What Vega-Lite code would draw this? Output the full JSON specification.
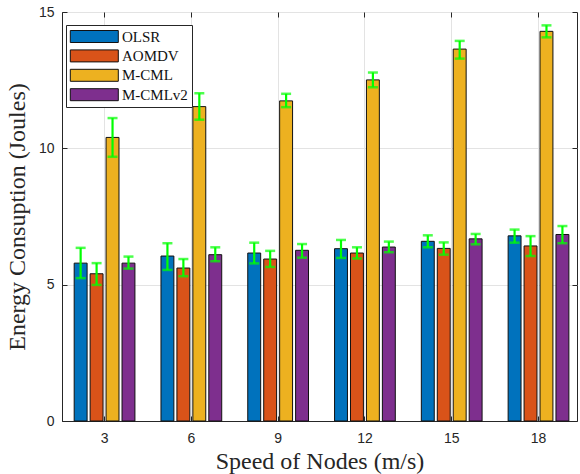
{
  "$schema": "https://vega.github.io/schema/vega-lite/v6.json",
  "width": 515,
  "height": 409,
  "autosize": "none",
  "padding": {"left": 62, "top": 12, "right": 3, "bottom": 53},
  "background": "white",
  "config": {
    "view": {"stroke": "#262626", "strokeWidth": 1},
    "axis": {
      "labelFont": "Liberation Sans",
      "labelFontSize": 14,
      "labelColor": "#262626",
      "domainColor": "#262626",
      "tickColor": "#262626",
      "gridColor": "#e3e3e3",
      "titleFont": "Liberation Serif",
      "titleFontWeight": "normal",
      "titleFontSize": 24,
      "titleColor": "#262626"
    }
  },
  "data": {
    "values": [
      {"speed": 3, "protocol": "OLSR", "energy": 5.79, "lo": 5.24, "hi": 6.35},
      {"speed": 3, "protocol": "AOMDV", "energy": 5.40, "lo": 4.99, "hi": 5.79},
      {"speed": 3, "protocol": "M-CML", "energy": 10.40, "lo": 9.69, "hi": 11.11},
      {"speed": 3, "protocol": "M-CMLv2", "energy": 5.79, "lo": 5.59, "hi": 6.03},
      {"speed": 6, "protocol": "OLSR", "energy": 6.05, "lo": 5.54, "hi": 6.52},
      {"speed": 6, "protocol": "AOMDV", "energy": 5.61, "lo": 5.31, "hi": 5.94},
      {"speed": 6, "protocol": "M-CML", "energy": 11.53, "lo": 11.05, "hi": 12.02},
      {"speed": 6, "protocol": "M-CMLv2", "energy": 6.10, "lo": 5.86, "hi": 6.37},
      {"speed": 9, "protocol": "OLSR", "energy": 6.16, "lo": 5.78, "hi": 6.54},
      {"speed": 9, "protocol": "AOMDV", "energy": 5.94, "lo": 5.65, "hi": 6.24},
      {"speed": 9, "protocol": "M-CML", "energy": 11.74, "lo": 11.51, "hi": 12.0},
      {"speed": 9, "protocol": "M-CMLv2", "energy": 6.26, "lo": 5.99, "hi": 6.49},
      {"speed": 12, "protocol": "OLSR", "energy": 6.32, "lo": 5.98, "hi": 6.64},
      {"speed": 12, "protocol": "AOMDV", "energy": 6.16, "lo": 5.96, "hi": 6.37},
      {"speed": 12, "protocol": "M-CML", "energy": 12.51, "lo": 12.24, "hi": 12.78},
      {"speed": 12, "protocol": "M-CMLv2", "energy": 6.38, "lo": 6.19, "hi": 6.58},
      {"speed": 15, "protocol": "OLSR", "energy": 6.59, "lo": 6.37, "hi": 6.81},
      {"speed": 15, "protocol": "AOMDV", "energy": 6.33, "lo": 6.10, "hi": 6.55},
      {"speed": 15, "protocol": "M-CML", "energy": 13.64, "lo": 13.29, "hi": 13.94},
      {"speed": 15, "protocol": "M-CMLv2", "energy": 6.68, "lo": 6.48, "hi": 6.86},
      {"speed": 18, "protocol": "OLSR", "energy": 6.79, "lo": 6.54, "hi": 7.02},
      {"speed": 18, "protocol": "AOMDV", "energy": 6.42, "lo": 6.05, "hi": 6.78},
      {"speed": 18, "protocol": "M-CML", "energy": 14.29, "lo": 14.07, "hi": 14.51},
      {"speed": 18, "protocol": "M-CMLv2", "energy": 6.84, "lo": 6.52, "hi": 7.15}
    ]
  },
  "encoding": {
    "x": {
      "field": "speed",
      "type": "ordinal",
      "title": "Speed of Nodes (m/s)",
      "scale": {"paddingInner": 0.3, "paddingOuter": 0.117, "align": 0.6}
    },
    "xOffset": {
      "field": "protocol",
      "type": "nominal",
      "sort": ["OLSR", "AOMDV", "M-CML", "M-CMLv2"],
      "scale": {"paddingInner": 0.19, "paddingOuter": 0}
    }
  },
  "resolve": {"axis": {"x": "independent", "y": "independent"}},
  "layer": [
    {
      "encoding": {
        "x": {
          "field": "speed",
          "type": "ordinal",
          "title": "Speed of Nodes (m/s)",
          "axis": {
            "labelAngle": 0,
            "grid": true,
            "tickSize": -5,
            "labelPadding": 15,
            "titlePadding": 4
          }
        }
      },
      "layer": [
        {
          "mark": {"type": "bar", "stroke": "#111111", "strokeWidth": 1},
          "encoding": {
            "y": {
              "field": "energy",
              "type": "quantitative",
              "title": "Energy Consuption (Joules)",
              "scale": {"domain": [0, 15], "nice": false},
              "axis": {
                "values": [0, 5, 10, 15],
                "grid": true,
                "tickSize": -5,
                "labelPadding": 13,
                "titlePadding": 9
              }
            },
            "color": {
              "field": "protocol",
              "type": "nominal",
              "sort": ["OLSR", "AOMDV", "M-CML", "M-CMLv2"],
              "scale": {
                "domain": ["OLSR", "AOMDV", "M-CML", "M-CMLv2"],
                "range": ["#0072BD", "#D95319", "#EDB120", "#7E2F8E"]
              },
              "legend": {
                "title": null,
                "orient": "none",
                "legendX": 4,
                "legendY": 13,
                "symbolType": "M-1.2,-1H6.8V1H-1.2Z",
                "symbolSize": 144,
                "symbolStrokeColor": "#111111",
                "symbolStrokeWidth": 1,
                "symbolOpacity": 1,
                "symbolOffset": 0,
                "labelFont": "Liberation Serif",
                "labelFontSize": 15,
                "labelColor": "#111111",
                "labelOffset": 37,
                "rowPadding": 2.4,
                "padding": 4,
                "fillColor": "white",
                "strokeColor": "#262626",
                "cornerRadius": 0
              }
            }
          }
        },
        {
          "mark": {"type": "rule", "color": "#00FF00", "strokeWidth": 2.2},
          "encoding": {
            "y": {"field": "lo", "type": "quantitative", "title": "Energy Consuption (Joules)"},
            "y2": {"field": "hi"}
          }
        },
        {
          "mark": {"type": "tick", "color": "#00FF00", "thickness": 2.5, "size": 10},
          "encoding": {
            "y": {"field": "lo", "type": "quantitative", "title": "Energy Consuption (Joules)"}
          }
        },
        {
          "mark": {"type": "tick", "color": "#00FF00", "thickness": 2.5, "size": 10},
          "encoding": {
            "y": {"field": "hi", "type": "quantitative", "title": "Energy Consuption (Joules)"}
          }
        }
      ]
    },
    {
      "mark": {"type": "tick", "opacity": 0},
      "encoding": {
        "x": {
          "field": "speed",
          "type": "ordinal",
          "axis": {"orient": "top", "labels": false, "title": null, "grid": false, "tickSize": -5, "domain": false}
        },
        "y": {
          "field": "energy",
          "type": "quantitative",
          "axis": {"orient": "right", "labels": false, "title": null, "grid": false, "tickSize": -5, "values": [0, 5, 10, 15], "domain": false}
        }
      }
    }
  ]
}
